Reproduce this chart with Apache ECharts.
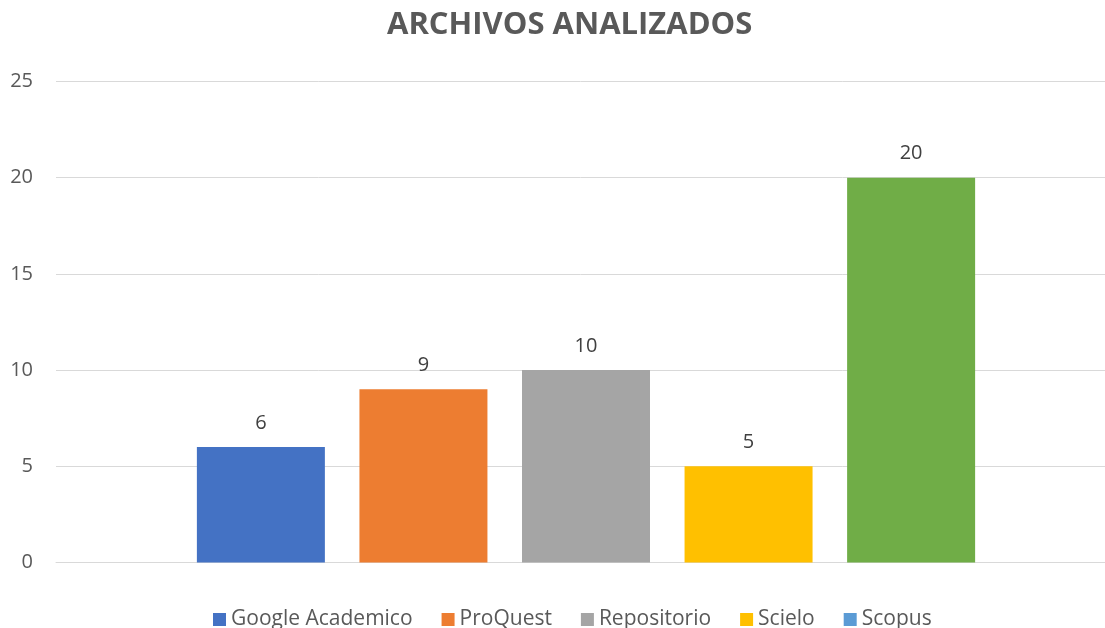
<!DOCTYPE html>
<html>
<head>
<meta charset="utf-8">
<script src="https://cdn.jsdelivr.net/npm/echarts@6/dist/echarts.min.js"></script>
<style>
html,body{margin:0;padding:0;background:#fff;}
#chart{width:1105px;height:628px;}
</style>
</head>
<body>
<div id="chart"></div>
<script>
var seriesNames = ['Google Academico', 'ProQuest', 'Repositorio', 'Scielo', 'Scopus'];
var seriesValues = [6, 9, 10, 5, 20];
var barColors = ['#4472C4', '#ED7D31', '#A5A5A5', '#FFC000', '#70AD47'];
var legendColors = ['#4472C4', '#ED7D31', '#A5A5A5', '#FFC000', '#5B9BD5'];
var yTicks = [0, 5, 10, 15, 20, 25];

var FONT = '"Open Sans", "DejaVu Sans", sans-serif';
var chart = echarts.init(document.getElementById('chart'));
var yMin = yTicks[0], yMax = yTicks[yTicks.length - 1], yStep = yTicks[1] - yTicks[0];

var series = seriesNames.map(function (name, i) {
  return {
    name: name,
    type: 'bar',
    xAxisIndex: 1,
    yAxisIndex: 1,
    data: [seriesValues[i]],
    barWidth: 128,
    barGap: '27%',
    itemStyle: { color: barColors[i] },
    label: {
      show: true,
      position: 'top',
      distance: 14,
      color: '#404040',
      fontFamily: FONT,
      fontSize: 20
    }
  };
});

chart.setOption({
  animation: false,
  backgroundColor: '#ffffff',
  title: {
    text: 'ARCHIVOS ANALIZADOS',
    left: 382,
    top: 5,
    textStyle: {
      fontFamily: FONT,
      fontSize: 31,
      fontWeight: 'bold',
      color: '#595959'
    }
  },
  legend: {
    data: seriesNames.map(function (n, i) {
      return { name: n, itemStyle: { color: legendColors[i] } };
    }),
    left: 208,
    top: 604,
    icon: 'rect',
    itemWidth: 13,
    itemHeight: 13,
    itemGap: 29,
    textStyle: {
      fontFamily: FONT,
      fontSize: 21,
      color: '#595959'
    }
  },
  grid: [
    { left: 56, right: 0, top: 81.5, bottom: 65.5, containLabel: false },
    { left: 67, right: 0, top: 81.5, bottom: 65.5, containLabel: false }
  ],
  xAxis: [
    {
      gridIndex: 0,
      type: 'category',
      data: [''],
      axisLine: { show: true, lineStyle: { color: '#D9D9D9', width: 1 } },
      axisTick: { show: false },
      axisLabel: { show: false }
    },
    {
      gridIndex: 1,
      type: 'category',
      data: [''],
      show: false
    }
  ],
  yAxis: [
    {
      gridIndex: 0,
      type: 'value',
      min: yMin,
      max: yMax,
      interval: yStep,
      axisLine: { show: false },
      axisTick: { show: false },
      axisLabel: {
        margin: 23,
        color: '#595959',
        fontFamily: FONT,
        fontSize: 20
      },
      splitLine: { lineStyle: { color: '#D9D9D9', width: 1 } }
    },
    {
      gridIndex: 1,
      type: 'value',
      min: yMin,
      max: yMax,
      interval: yStep,
      show: false,
      splitLine: { show: false }
    }
  ],
  series: series
});
</script>
</body>
</html>
